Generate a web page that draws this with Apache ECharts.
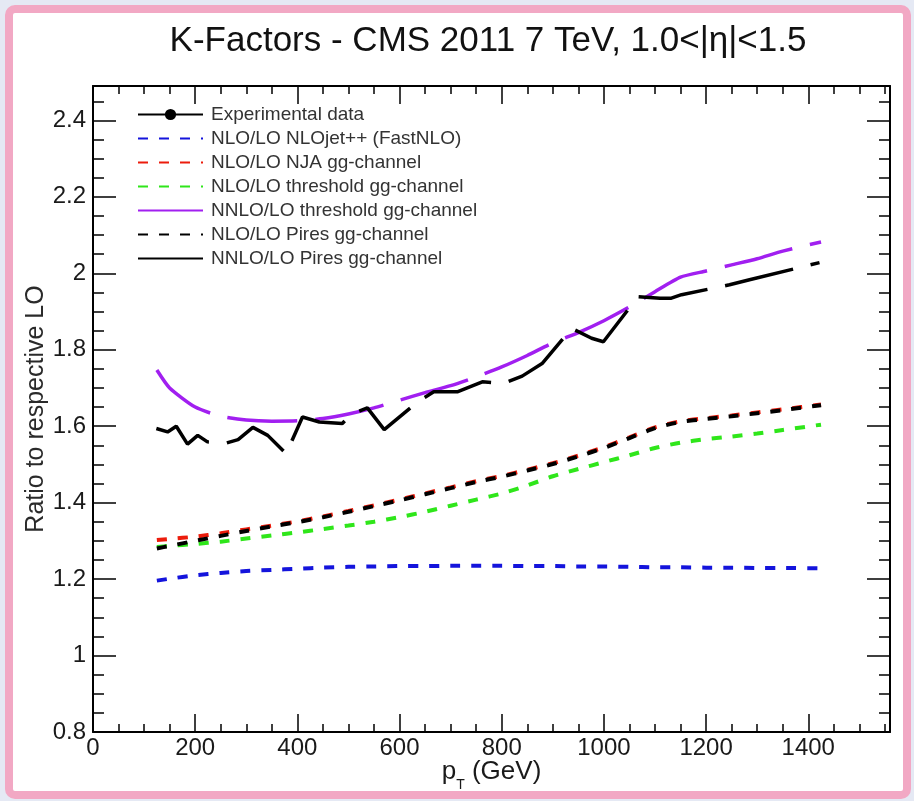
<!DOCTYPE html>
<html>
<head>
<meta charset="utf-8">
<script src="https://cdn.jsdelivr.net/npm/echarts@6/dist/echarts.min.js"></script>
<style>
  html, body { margin: 0; padding: 0; width: 914px; height: 801px; background: #e5e9f4; overflow: hidden; }
  #frame { position: absolute; left: 5px; top: 5px; width: 890px; height: 778px; border: 8px solid #f2a8c4; border-radius: 10px; background: #ffffff; }
  #chart { position: absolute; left: 0; top: 0; width: 914px; height: 801px; }
</style>
</head>
<body>
<div id="frame"></div>
<div id="chart"></div>
<script>
// Transverse momentum grid (GeV) shared by the smooth K-factor curves
const ptGrid = [125, 150, 200, 250, 300, 350, 400, 450, 500, 550, 600, 650, 700, 750, 800, 850, 900, 950, 1000, 1050, 1100, 1150, 1200, 1250, 1300, 1350, 1425];

const nloNlojet = [1.196, 1.201, 1.210, 1.216, 1.221, 1.224, 1.227, 1.230, 1.232, 1.233, 1.234, 1.234, 1.235, 1.235, 1.235, 1.234, 1.234, 1.233, 1.233, 1.232, 1.231, 1.231, 1.230, 1.230, 1.229, 1.229, 1.228];
const nloNja = [1.302, 1.305, 1.311, 1.320, 1.330, 1.340, 1.351, 1.364, 1.378, 1.393, 1.408, 1.424, 1.440, 1.456, 1.470, 1.486, 1.503, 1.523, 1.545, 1.571, 1.597, 1.613, 1.621, 1.628, 1.636, 1.644, 1.657];
const nloThreshold = [1.284, 1.287, 1.292, 1.298, 1.306, 1.314, 1.322, 1.331, 1.340, 1.350, 1.362, 1.376, 1.392, 1.408, 1.424, 1.445, 1.469, 1.488, 1.506, 1.524, 1.543, 1.557, 1.566, 1.573, 1.581, 1.590, 1.604];
const nnloThreshold = [1.747, 1.700, 1.650, 1.626, 1.616, 1.613, 1.614, 1.620, 1.632, 1.648, 1.668, 1.688, 1.706, 1.729, 1.755, 1.785, 1.818, 1.845, 1.876, 1.912, 1.952, 1.990, 2.006, 2.022, 2.038, 2.058, 2.082];
const nloPires = [1.280, 1.287, 1.300, 1.313, 1.326, 1.338, 1.349, 1.362, 1.376, 1.391, 1.406, 1.422, 1.438, 1.454, 1.468, 1.484, 1.501, 1.521, 1.543, 1.569, 1.595, 1.611, 1.619, 1.626, 1.634, 1.642, 1.655];

// NNLO/LO Pires: statistically fluctuating, on its own pT points
const ptPires = [124, 146, 163, 185, 205, 224, 261, 284, 313, 342, 378, 397, 410, 443, 488, 505, 537, 570, 635, 667, 713, 762, 804, 840, 879, 937, 976, 999, 1067, 1110, 1132, 1152, 1246, 1285, 1422];
const nnloPires = [1.594, 1.585, 1.600, 1.553, 1.576, 1.559, 1.556, 1.565, 1.597, 1.576, 1.528, 1.585, 1.624, 1.611, 1.607, 1.631, 1.648, 1.591, 1.663, 1.690, 1.690, 1.716, 1.712, 1.731, 1.764, 1.856, 1.830, 1.821, 1.939, 1.935, 1.935, 1.944, 1.970, 1.983, 2.028];

// Experimental points (none drawn in this panel)
const expPt = [];
const expRatio = [];

const xTicks = { min: 0, max: 1560, major: 200, minor: 50 };
const yTicks = { min: 0.8, max: 2.49, major: 0.2, minor: 0.05 };

const pairs = (xs, ys) => xs.map((x, i) => [x, ys[i]]);

const FONT = '"Liberation Sans", Arial, Helvetica, sans-serif';
const shortDash = [10, 11];
const longDash = [70, 18];

const chart = echarts.init(document.getElementById('chart'), null, { renderer: 'canvas' });

function xAxisDef(position, interval, tickLen, withLabels, withLine) {
  return {
    type: 'value', position: position, min: xTicks.min, max: xTicks.max, interval: interval,
    axisLine: { show: withLine, onZero: false, lineStyle: { color: '#000', width: 2 } },
    axisTick: { show: true, inside: true, length: tickLen, lineStyle: { color: '#000', width: 1.5 } },
    axisLabel: {
      show: withLabels, showMaxLabel: false, margin: 4,
      fontFamily: FONT, fontSize: 24, color: '#1a1a1a',
      formatter: v => String(Math.round(v))
    },
    splitLine: { show: false }
  };
}
function yAxisDef(position, interval, tickLen, withLabels, withLine) {
  return {
    type: 'value', position: position, min: yTicks.min, max: yTicks.max, interval: interval,
    axisLine: { show: withLine, onZero: false, lineStyle: { color: '#000', width: 2 } },
    axisTick: { show: true, inside: true, length: tickLen, lineStyle: { color: '#000', width: 1.5 } },
    axisLabel: {
      show: withLabels, showMaxLabel: false, margin: 7,
      fontFamily: FONT, fontSize: 24, color: '#1a1a1a',
      formatter: v => (Math.round(v * 10) / 10).toString()
    },
    splitLine: { show: false }
  };
}

const xMain = xAxisDef('bottom', xTicks.major, 18, true, true);
xMain.name = '{p|p}{t|T}{g| (GeV)}';
xMain.nameLocation = 'middle';
xMain.nameGap = 20;
xMain.nameMoveOverlap = false;
xMain.nameTextStyle = {
  fontFamily: FONT, color: '#1a1a1a',
  rich: {
    p: { fontSize: 26, fontFamily: FONT, color: '#1a1a1a', verticalAlign: 'middle', lineHeight: 40 },
    t: { fontSize: 14, fontFamily: FONT, color: '#1a1a1a', verticalAlign: 'bottom', lineHeight: 40 },
    g: { fontSize: 26, fontFamily: FONT, color: '#1a1a1a', verticalAlign: 'middle', lineHeight: 40 }
  }
};

const yMain = yAxisDef('left', yTicks.major, 23, true, true);
yMain.name = 'Ratio to respective LO';
yMain.nameLocation = 'middle';
yMain.nameGap = 44;
yMain.nameMoveOverlap = false;
yMain.nameTextStyle = { fontFamily: FONT, fontSize: 25, color: '#2a2a2a' };

const legendNoSymbol = { opacity: 0 };

const option = {
  backgroundColor: 'transparent',
  animation: false,
  title: {
    text: 'K-Factors - CMS 2011 7 TeV, 1.0<|η|<1.5',
    left: 483, top: 19, textAlign: 'center',
    textStyle: { fontFamily: FONT, fontSize: 35, fontWeight: 'normal', color: '#111' }
  },
  grid: { left: 93, right: 24, top: 86, bottom: 69, containLabel: false, outerBoundsMode: 'none' },
  xAxis: [
    xMain,
    xAxisDef('bottom', xTicks.minor, 8, false, false),
    xAxisDef('top', xTicks.major, 18, false, true),
    xAxisDef('top', xTicks.minor, 8, false, false)
  ],
  yAxis: [
    yMain,
    yAxisDef('left', yTicks.minor, 11, false, false),
    yAxisDef('right', yTicks.major, 23, false, true),
    yAxisDef('right', yTicks.minor, 11, false, false)
  ],
  legend: {
    orient: 'vertical', left: 132, top: 100,
    itemWidth: 65, itemHeight: 14, itemGap: 5,
    textStyle: { fontFamily: FONT, fontSize: 19, color: '#333', lineHeight: 14, padding: [0, 0, 0, 3] },
    data: [
      { name: 'Experimental data' },
      { name: 'NLO/LO NLOjet++ (FastNLO)', itemStyle: legendNoSymbol },
      { name: 'NLO/LO NJA gg-channel', itemStyle: legendNoSymbol },
      { name: 'NLO/LO threshold gg-channel', itemStyle: legendNoSymbol },
      { name: 'NNLO/LO threshold gg-channel', itemStyle: legendNoSymbol },
      { name: 'NLO/LO Pires gg-channel', itemStyle: legendNoSymbol },
      { name: 'NNLO/LO Pires gg-channel', itemStyle: legendNoSymbol }
    ]
  },
  series: [
    {
      name: 'Experimental data', type: 'line', data: pairs(expPt, expRatio),
      symbol: 'circle', symbolSize: 9, itemStyle: { color: '#000' },
      lineStyle: { color: '#000', width: 2 }
    },
    {
      name: 'NLO/LO NLOjet++ (FastNLO)', type: 'line', data: pairs(ptGrid, nloNlojet),
      symbol: 'none', smooth: 0.2, itemStyle: { color: '#1414dc' },
      lineStyle: { color: '#1414dc', width: 4, type: shortDash }
    },
    {
      name: 'NLO/LO NJA gg-channel', type: 'line', data: pairs(ptGrid, nloNja),
      symbol: 'none', smooth: 0.2, itemStyle: { color: '#ec1c0c' },
      lineStyle: { color: '#ec1c0c', width: 4, type: shortDash }
    },
    {
      name: 'NLO/LO threshold gg-channel', type: 'line', data: pairs(ptGrid, nloThreshold),
      symbol: 'none', smooth: 0.2, itemStyle: { color: '#2fe61a' },
      lineStyle: { color: '#2fe61a', width: 4, type: shortDash }
    },
    {
      name: 'NNLO/LO threshold gg-channel', type: 'line', data: pairs(ptGrid, nnloThreshold),
      symbol: 'none', smooth: 0.2, itemStyle: { color: '#a11ff0' },
      lineStyle: { color: '#a11ff0', width: 3.5, type: longDash }
    },
    {
      name: 'NLO/LO Pires gg-channel', type: 'line', data: pairs(ptGrid, nloPires),
      symbol: 'none', smooth: 0.2, itemStyle: { color: '#000' },
      lineStyle: { color: '#000', width: 4, type: shortDash }
    },
    {
      name: 'NNLO/LO Pires gg-channel', type: 'line', data: pairs(ptPires, nnloPires),
      symbol: 'none', itemStyle: { color: '#000' },
      lineStyle: { color: '#000', width: 3.5, type: longDash }
    }
  ]
};

chart.setOption(option);
</script>
</body>
</html>
